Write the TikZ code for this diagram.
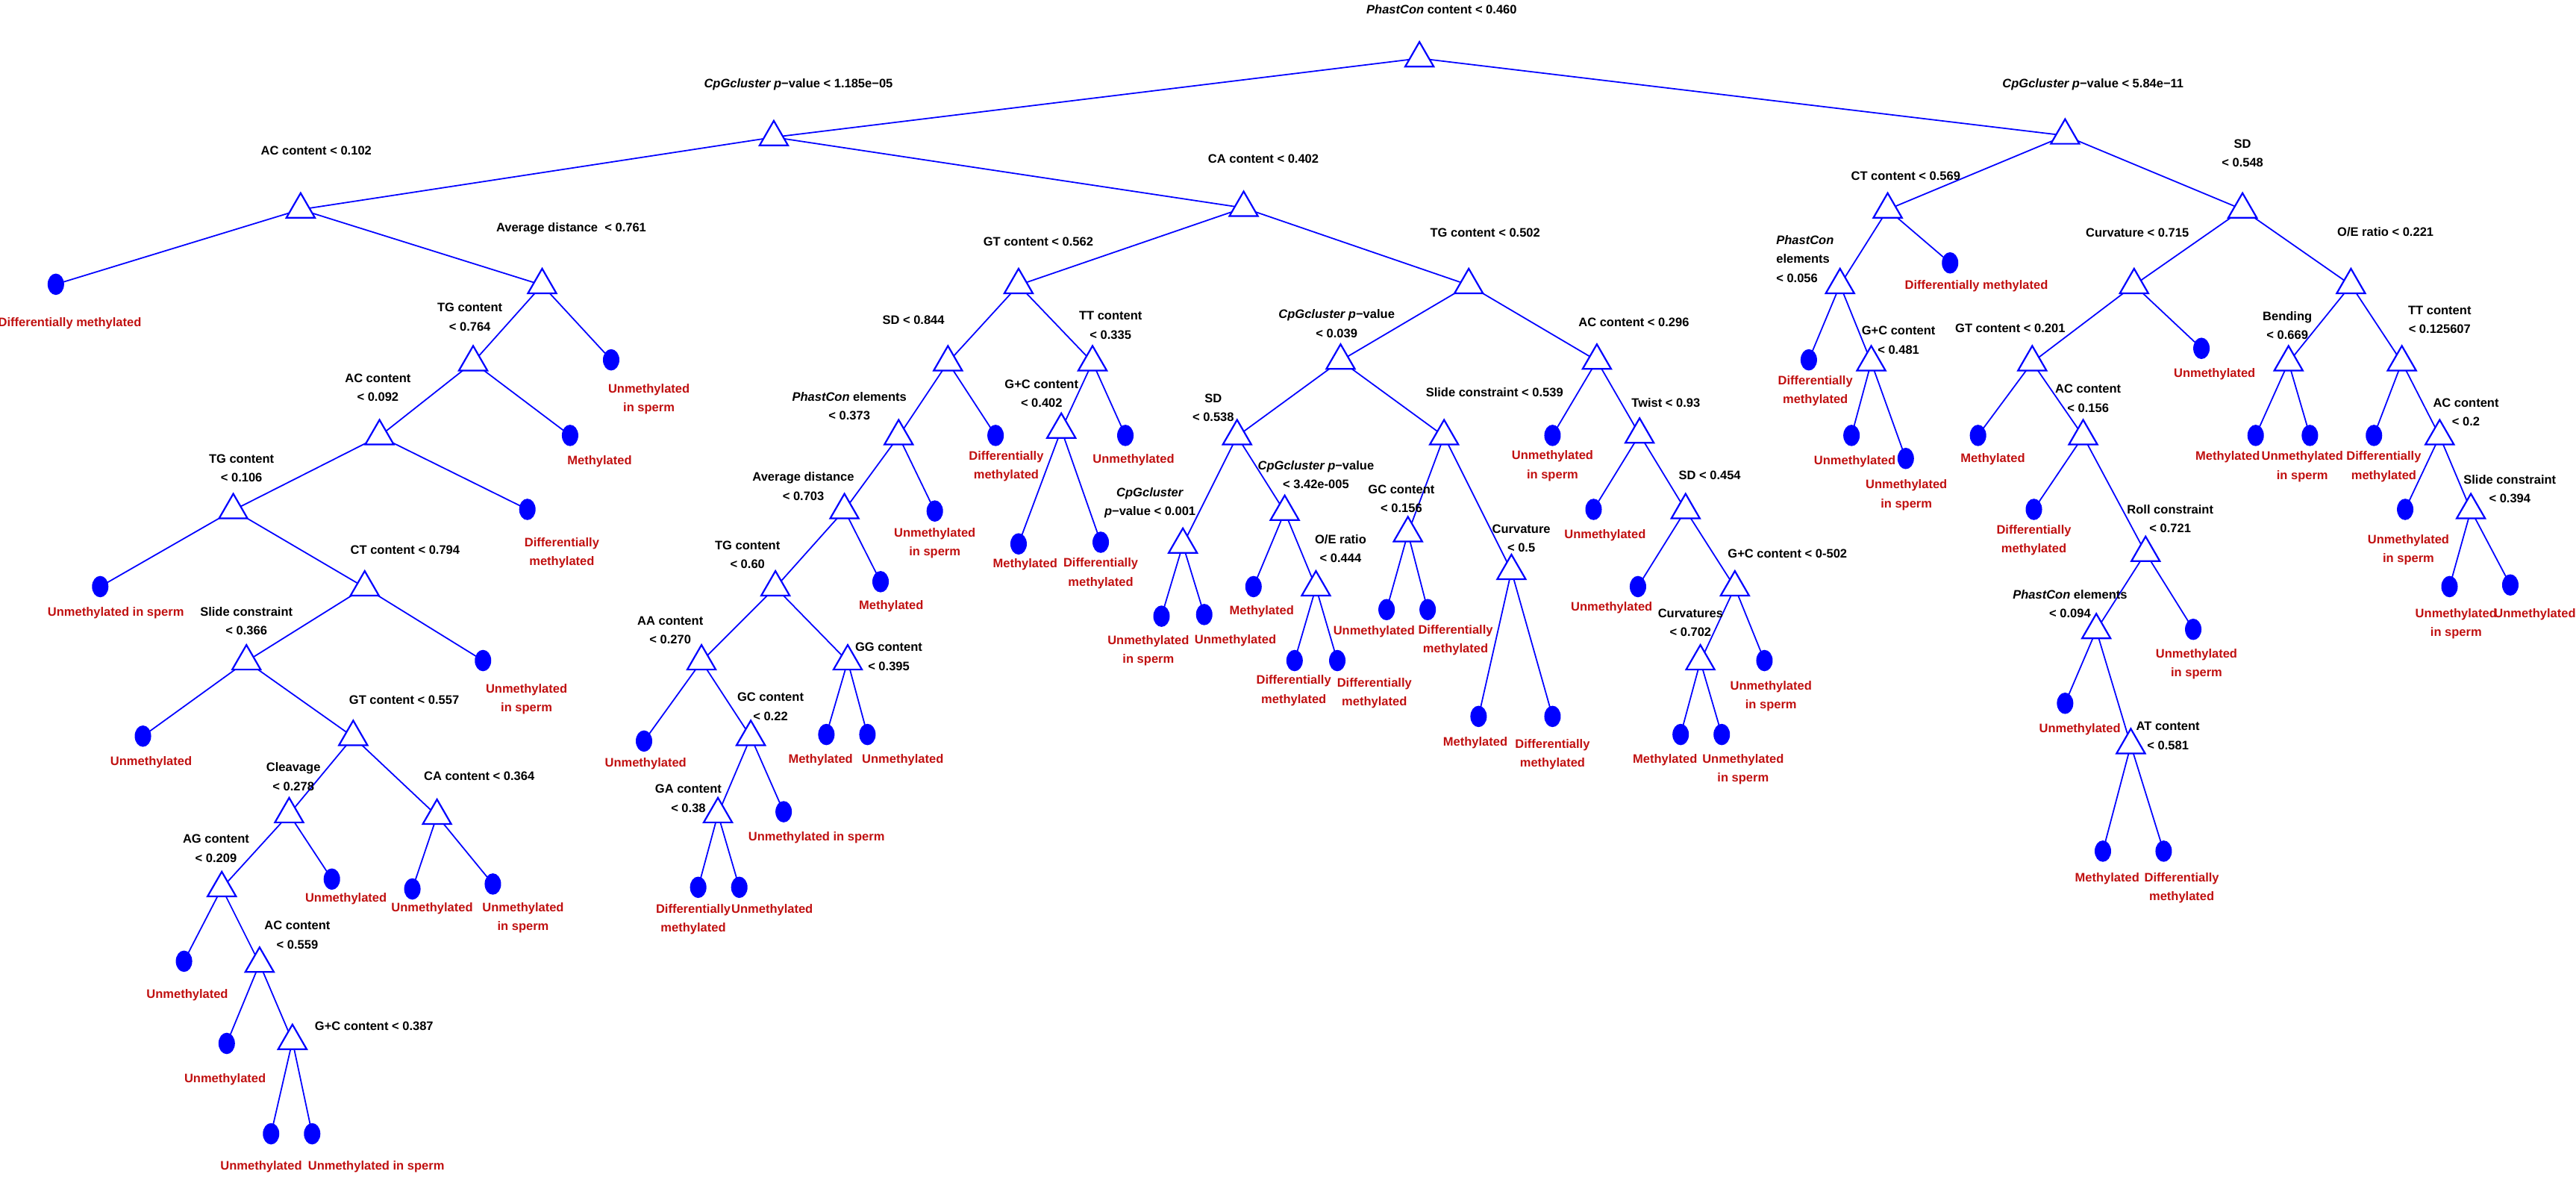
\documentclass[tikz,border=0pt]{standalone}
\usepackage{fontspec}
\setmainfont{Liberation Sans}
\usetikzlibrary{shapes.geometric}
\pgfdeclarelayer{bg}
\pgfsetlayers{bg,main}
\definecolor{dred}{RGB}{192,16,16}
\begin{document}
\begin{tikzpicture}[x=1pt,y=-1pt,
  tri/.style={regular polygon,regular polygon sides=3,minimum size=20pt,inner sep=0,draw=blue,fill=white,line width=1pt,yshift=-2.5pt},
  leaf/.style={ellipse,minimum width=10pt,minimum height=13pt,inner sep=0,fill=blue},
  lab/.style={inner sep=0,align=center,font=\fontsize{7.5}{11.5}\selectfont\bfseries,text=black},
  res/.style={lab,text=dred},
  edge/.style={draw=blue,line width=0.8pt}]
\useasboundingbox (0,0) rectangle (1568,717.7);
% ---- decision nodes
\foreach \n/\x/\y in {root/864/33,L/471/81,R/1257/80,
 A1/183/125,A2/330/171,A3/288/218,A4/231/263,A5/142/308,A6/222/355,A7/150/400,A8/215/446,A9/176/493,A10/135/538,A11/158/584,A12/178/631,A13/266/494,
 B/757/124,B1/620/171,B2/577/218,B3/547/263,B4/514/308,B5/472/355,B6/427/400,B7/457/446,B8/437/493,B9/516/400,B10/665/218,B11/646/259,
 B12/894/171,B13/816/217,B14/753/263,B15/720/329,B16/782/309,B17/801/355,B18/879/263,B19/857/322,B20/920/345,B21/972/217,B22/998/262,B23/1026/308,B24/1056/355,B25/1035/400,
 C1/1149/125,C2/1365/125,C3/1120/171,C4/1299/171,C5/1431/171,C6/1139/218,C7/1237/218,C8/1393/218,C9/1462/218,C10/1268/263,C11/1485/263,C12/1306/334,C13/1504/308,C14/1276/381,C15/1297/451}
 {\node[tri] (\n) at (\x,\y) {};}
% ---- leaves
\foreach \n/\x/\y in {l1/34/173,l2/372/219,l3/347/265,l4/321/310,l5/61/357,l6/294/402,l7/87/448,l8/202/535,l9/112/585,l10/138/635,l11/165/690,l12/190/690,l13/251/541,l14/300/538,
 l15/606/265,l16/569/311,l17/536/354,l18/392/451,l19/425/540,l20/450/540,l21/477/494,l22/503/447,l23/528/447,l24/685/265,l25/620/331,l26/670/330,
 l27/707/375,l28/733/374,l29/763/357,l30/788/402,l31/814/402,l32/844/371,l33/869/371,l34/900/436,l35/945/436,l36/945/265,l37/970/310,l38/997/357,l39/1074/402,l40/1023/447,l41/1048/447,
 l42/1187/160,l43/1101/219,l44/1127/265,l45/1160/279,l46/1340/212,l47/1204/265,l48/1373/265,l49/1406/265,l50/1445/265,l51/1238/310,l52/1464/310,l53/1335/383,l54/1491/357,l55/1528/356,l56/1257/428,l57/1280/518,l58/1317/518}
 {\node[leaf] (\n) at (\x,\y) {};}
% ---- edges
\begin{pgfonlayer}{bg}
\foreach \a/\b in {root/L,root/R,L/A1,L/B,A1/l1,A1/A2,A2/A3,A2/l2,A3/A4,A3/l3,A4/A5,A4/l4,A5/l5,A5/A6,A6/A7,A6/l6,A7/l7,A7/A8,A8/A9,A8/A13,A9/A10,A9/l8,A10/l9,A10/A11,A11/l10,A11/A12,A12/l11,A12/l12,A13/l13,A13/l14,
 B/B1,B/B12,B1/B2,B1/B10,B2/B3,B2/l15,B3/B4,B3/l16,B4/B5,B4/l17,B5/B6,B5/B9,B6/l18,B6/B7,B7/B8,B7/l21,B8/l19,B8/l20,B9/l22,B9/l23,B10/B11,B10/l24,B11/l25,B11/l26,
 B12/B13,B12/B21,B13/B14,B13/B18,B14/B15,B14/B16,B15/l27,B15/l28,B16/l29,B16/B17,B17/l30,B17/l31,B18/B19,B18/B20,B19/l32,B19/l33,B20/l34,B20/l35,B21/l36,B21/B22,B22/l37,B22/B23,B23/l38,B23/B24,B24/B25,B24/l39,B25/l40,B25/l41,
 R/C1,R/C2,C1/C3,C1/l42,C3/l43,C3/C6,C6/l44,C6/l45,C2/C4,C2/C5,C4/C7,C4/l46,C7/l47,C7/C10,C10/l51,C10/C12,C12/C14,C12/l53,C14/l56,C14/C15,C15/l57,C15/l58,C5/C8,C5/C9,C8/l48,C8/l49,C9/l50,C9/C11,C11/l52,C11/C13,C13/l54,C13/l55}
 {\draw[edge] (\a.center) -- (\b.center);}
\end{pgfonlayer}
% ---- split labels
\node[lab] (t-root) at (877.5,5.5) {\textit{PhastCon} content < 0.460};
\node[lab] (t-L) at (486,51.5) {\textit{CpGcluster p}−value < 1.185e−05};
\node[lab] (t-R) at (1274,51.5) {\textit{CpGcluster p}−value < 5.84e−11};
\node[lab] (t-A1) at (192.5,91.7) {AC content < 0.102};
\node[lab] (t-A2) at (347.7,139) {Average distance \ < 0.761};
\node[lab] (t-A3) at (286,193) {TG content\\< 0.764};
\node[lab] (t-A4) at (230,236) {AC content\\< 0.092};
\node[lab] (t-A5) at (147,285) {TG content\\< 0.106};
\node[lab] (t-A6) at (246.6,334.5) {CT content < 0.794};
\node[lab] (t-A7) at (150,378) {Slide constraint\\< 0.366};
\node[lab] (t-A8) at (246,426) {GT content < 0.557};
\node[lab] (t-A9) at (178.6,472.7) {Cleavage\\< 0.278};
\node[lab] (t-A10) at (131.5,516.3) {AG content\\< 0.209};
\node[lab] (t-A11) at (181,569) {AC content\\< 0.559};
\node[lab] (t-A12) at (227.7,624.5) {G+C content < 0.387};
\node[lab] (t-A13) at (291.7,472.3) {CA content < 0.364};
\node[lab] (t-B) at (769,96.5) {CA content < 0.402};
\node[lab] (t-B1) at (632,147) {GT content < 0.562};
\node[lab] (t-B2) at (556,195) {SD < 0.844};
\node[lab] (t-B3) at (517,247) {\textit{PhastCon} elements\\< 0.373};
\node[lab] (t-B4) at (489,296) {Average distance\\< 0.703};
\node[lab] (t-B5) at (455,337.6) {TG content\\< 0.60};
\node[lab] (t-B6) at (408,383.5) {AA content\\< 0.270};
\node[lab] (t-B7) at (469,430) {GC content\\< 0.22};
\node[lab] (t-B8) at (419,486) {GA content\\< 0.38};
\node[lab] (t-B9) at (541,399.7) {GG content\\< 0.395};
\node[lab] (t-B10) at (676,198) {TT content\\< 0.335};
\node[lab] (t-B11) at (634,239.4) {G+C content\\< 0.402};
\node[lab] (t-B12) at (904,141.7) {TG content < 0.502};
\node[lab] (t-B13) at (813.6,197) {\textit{CpGcluster p}−value\\< 0.039};
\node[lab] (t-B14) at (738.5,248) {SD\\< 0.538};
\node[lab] (t-B15) at (700,306) {\textit{CpGcluster}\\\textit{p}−value < 0.001};
\node[lab] (t-B16) at (801,289) {\textit{CpGcluster p}−value\\< 3.42e-005};
\node[lab] (t-B17) at (816,334) {O/E ratio\\< 0.444};
\node[lab] (t-B18) at (909.7,238.8) {Slide constraint < 0.539};
\node[lab] (t-B19) at (853,303.5) {GC content\\< 0.156};
\node[lab] (t-B20) at (926,327.5) {Curvature\\< 0.5};
\node[lab] (t-B21) at (994.5,196) {AC content < 0.296};
\node[lab] (t-B22) at (1014,245) {Twist < 0.93};
\node[lab] (t-B23) at (1040.7,289.3) {SD < 0.454};
\node[lab] (t-B24) at (1088,337) {G+C content < 0-502};
\node[lab] (t-B25) at (1029,379) {Curvatures\\< 0.702};
\node[lab] (t-C1) at (1160,107) {CT content < 0.569};
\node[lab] (t-C2) at (1365,93.4) {SD\\< 0.548};
\node[lab,anchor=west,align=left] (t-C3) at (1081,157.6) {\textit{PhastCon}\\elements\\< 0.056};
\node[lab] (t-C4) at (1301,141.7) {Curvature < 0.715};
\node[lab] (t-C5) at (1452,141) {O/E ratio < 0.221};
\node[lab] (t-C6) at (1155.6,207) {G+C content\\< 0.481};
\node[lab] (t-C7) at (1223.6,200) {GT content < 0.201};
\node[lab] (t-C8) at (1392.3,198) {Bending\\< 0.669};
\node[lab] (t-C9) at (1485,194.7) {TT content\\< 0.125607};
\node[lab] (t-C10) at (1271,242.4) {AC content\\< 0.156};
\node[lab] (t-C11) at (1501,251) {AC content\\< 0.2};
\node[lab] (t-C12) at (1321,315.8) {Roll constraint\\< 0.721};
\node[lab] (t-C13) at (1527.7,297.5) {Slide constraint\\< 0.394};
\node[lab] (t-C14) at (1260,367.4) {\textit{PhastCon} elements\\< 0.094};
\node[lab] (t-C15) at (1319.6,447.8) {AT content\\< 0.581};
% ---- leaf labels
\foreach \n/\x/\y/\t in {
 1/42.5/197/Differentially methylated,
 2/395/243/Unmethylated\\in sperm,
 3/365/281/Methylated,
 4/342/336.5/Differentially\\methylated,
 5/70.5/373/Unmethylated in sperm,
 6/320.5/425.5/Unmethylated\\in sperm,
 7/92/464/Unmethylated,
 8/210.6/547/Unmethylated,
 9/114/605.6/Unmethylated,
 10/137/657/Unmethylated,
 11/159/710/Unmethylated,
 12/229/710/Unmethylated in sperm,
 13/263/553/Unmethylated,
 14/318.4/558.7/Unmethylated\\in sperm,
 15/612.5/283.7/Differentially\\methylated,
 16/569/330.5/Unmethylated\\in sperm,
 17/542.5/369/Methylated,
 18/393/465/Unmethylated,
 19/422/559.4/Differentially\\methylated,
 20/470/553.7/Unmethylated,
 21/497/509.6/Unmethylated in sperm,
 22/499.5/462.4/Methylated,
 23/549.5/462.4/Unmethylated,
 24/690/280/Unmethylated,
 25/624/343.4/Methylated,
 26/670/349/Differentially\\methylated,
 27/699/396/Unmethylated\\in sperm,
 28/752/390/Unmethylated,
 29/768/372/Methylated,
 30/787.5/420.3/Differentially\\methylated,
 31/836.6/421.8/Differentially\\methylated,
 32/836.4/384.6/Unmethylated,
 33/886/389.7/Differentially\\methylated,
 34/898/452/Methylated,
 35/945/459/Differentially\\methylated,
 36/945/283.5/Unmethylated\\in sperm,
 37/977/326/Unmethylated,
 38/981/370/Unmethylated,
 39/1078/423.8/Unmethylated\\in sperm,
 40/1013.5/462.3/Methylated,
 41/1061/468.3/Unmethylated\\in sperm,
 42/1203/174/Differentially methylated,
 43/1105/238/Differentially\\methylated,
 44/1129/280.6/Unmethylated,
 45/1160.4/301.2/Unmethylated\\in sperm,
 46/1348/227.5/Unmethylated,
 47/1213/279.6/Methylated,
 48/1356/278.2/Methylated,
 49/1401.4/284/Unmethylated\\in sperm,
 50/1451/284/Differentially\\methylated,
 51/1238/328.6/Differentially\\methylated,
 52/1466/334.5/Unmethylated\\in sperm,
 53/1337/404.2/Unmethylated\\in sperm,
 54/1495/379.7/Unmethylated\\in sperm,
 55/1543/374/Unmethylated,
 56/1266/444/Unmethylated,
 57/1282.6/534.7/Methylated,
 58/1328/540.3/Differentially\\methylated}
 {\node[res] (r\n) at (\x,\y) {\t};}
\end{tikzpicture}
\end{document}
